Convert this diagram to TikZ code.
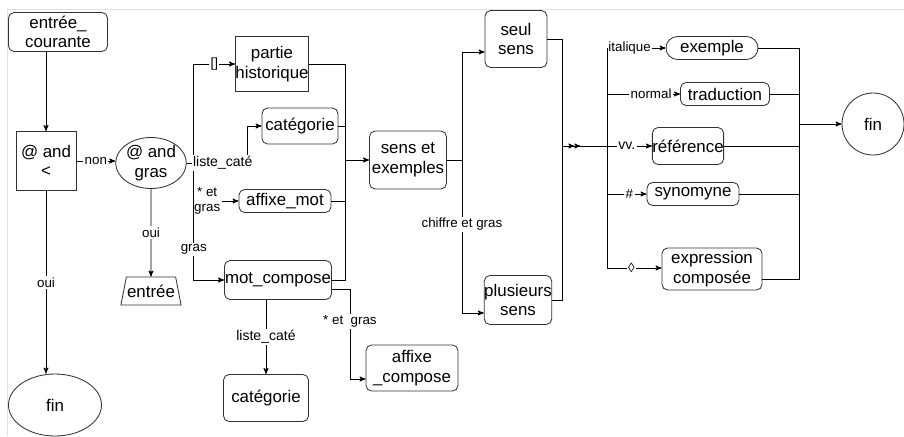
\documentclass[tikz,border=0pt]{standalone}
\usepackage{fontspec}
\setmainfont{Liberation Sans}
\usetikzlibrary{arrows,positioning,shapes,shapes.geometric}

\begin{document}
\begin{tikzpicture}[>=stealth',line width=0.6pt,on grid,
                    every node/.style={font=\fontsize{12}{14}\selectfont},
                    box/.style={rectangle,draw=black!80,align=center,inner sep=0pt},
                    rbox/.style={box,rounded corners=4pt},
                    oval/.style={ellipse,draw=black!80,align=center,inner sep=0pt},
                    lbl/.style={fill=white,inner sep=1pt,font=\fontsize{9.5}{10.5}\selectfont}]

  \useasboundingbox (-1.45,0.8) rectangle (21.15,-10.1);
  \draw[black!12] (-1.275,-10.1) -- (-1.275,0.575) -- (21.15,0.575);

  % left part
  \node[rbox, minimum width=2.475cm, minimum height=0.975cm] (courante) {entrée\_\\courante};
  \node[box, minimum width=1.5cm, minimum height=1.475cm] [below left = 3.225cm and 0.3cm of courante] (andlt) {@ and\\<};
  \node[oval, minimum width=1.75cm, minimum height=1.275cm] [below right = 0.05cm and 2.625cm of andlt] (andgras) {@ and\\gras};
  \node[trapezium, draw=black!80, inner xsep=0.5pt, inner ysep=5.5pt,
        trapezium left angle=79, trapezium right angle=79] [below = 3.2cm of andgras] (entree) {entrée};
  \node[oval, minimum width=2.325cm, minimum height=1.55cm] [below right = 6.1cm and 0.225cm of andlt] (finL) {fin};

  % entry parts
  \node[box, minimum width=1.8cm, minimum height=1.375cm] [above right = 2.475cm and 3.025cm of andgras] (hist) {partie\\historique};
  \node[rbox, minimum width=1.9cm, minimum height=0.9cm] [below right = 1.55cm and 0.7cm of hist] (cat1) {catégorie};
  \node[rbox, minimum width=2.3cm, minimum height=0.575cm] [below right = 3.425cm and 0.325cm of hist] (affmot) {affixe\_mot};
  \node[rbox, minimum width=2.675cm, minimum height=0.975cm] [below right = 5.4cm and 0.15cm of hist] (motcomp) {mot\_compose};
  \node[rbox, minimum width=2.125cm, minimum height=1.175cm] [below left = 2.95cm and 0.3cm of motcomp] (cat2) {catégorie};
  \node[rbox, minimum width=2.3cm, minimum height=1.15cm] [below right = 2.2cm and 3.35cm of motcomp] (affcomp) {affixe\\\_compose};

  % senses
  \node[rbox, minimum width=1.925cm, minimum height=1.45cm] [above right = 0.075cm and 6.425cm of andgras] (sensex) {sens et\\exemples};
  \node[rbox, minimum width=1.55cm, minimum height=1.425cm] [above right = 3.025cm and 2.7cm of sensex] (seul) {seul\\sens};
  \node[rbox, minimum width=1.65cm, minimum height=1.225cm] [below right = 3.5cm and 2.75cm of sensex] (plus) {plusieurs\\sens};

  % examples
  \node[rbox, rounded corners=0.2875cm, minimum width=2.3cm, minimum height=0.575cm] [above right = 2.8cm and 7.6cm of sensex] (exemple) {exemple};
  \node[rbox, minimum width=2.225cm, minimum height=0.575cm] [below right = 1.15cm and 0.325cm of exemple] (trad) {traduction};
  \node[rbox, minimum width=1.725cm, minimum height=0.925cm] [below left = 2.45cm and 0.6cm of exemple] (ref) {référence};
  \node[rbox, minimum width=2.3cm, minimum height=0.575cm] [below left = 3.65cm and 0.475cm of exemple] (syn) {synomyne};
  \node[rbox, minimum width=2.5cm, minimum height=1.05cm] [below = 5.525cm of exemple] (expr) {expression\\composée};
  \node[circle, draw=black!80, inner sep=0pt, minimum size=1.55cm] [above right = 0.55cm and 4.625cm of ref] (finR) {fin};

  % junctions
  \coordinate [right = 0.175cm of andgras.east] (b1);
  \coordinate [right = 1.525cm of andgras.east] (b1c);
  \coordinate [left = 0.6cm of sensex.west] (b2);
  \coordinate [right = 0.375cm of sensex.east] (b3);
  \coordinate [right = 0.375cm of seul.east] (b4);
  \coordinate [left = 1.45cm of exemple.west] (b5);
  \coordinate [left = 1.05cm of finR.west] (b6);

\draw[->] (courante.south -| andlt.north) -- (andlt.north);
\draw[->] (andlt.east) -- node[lbl] {non} (andlt.east -| andgras.west);
\draw[->] (andlt.south) -- node[lbl] {oui} (andlt.south |- finL.north);
\path (andgras) edge[->] node[lbl] {oui} (entree);

\draw (andgras.east) -- (b1);
\draw[->] (b1) |- node[lbl,pos=0.75] {[]} (hist.west);
\draw[->] (b1) |- node[lbl,pos=0.65,align=center] {* et\\gras} (affmot.west);
\draw[->] (b1) |- node[lbl,pos=0.37] {gras} (motcomp.west);
\draw[->] (andgras.east) -- node[lbl,pos=0.59,font=\fontsize{10}{11}\selectfont] {liste\_caté} (b1c) |- (cat1.west);

\draw (hist.east) -| (b2);
\draw (cat1.east) -| (b2);
\draw (affmot.east) -| (b2);
\draw (motcomp.east) -| (b2);
\draw[->] (b2) -- (sensex.west);
\draw[->] (cat2.north |- motcomp.south) -- node[lbl,font=\fontsize{10}{11}\selectfont] {liste\_caté} (cat2.north);
\draw[->] ([yshift=-0.225cm]motcomp.east) -- ++(0.45cm,0) |- node[lbl,pos=0.18] {* et~ gras} ([yshift=-0.275cm]affcomp.west);

\draw (sensex.east) -- (b3);
\draw[->] (b3) |- ([yshift=-0.325cm]seul.west);
\draw[->] (b3) |- node[lbl,pos=0.21] {chiffre et gras} ([yshift=-0.325cm]plus.west);
\draw (seul.east) -- (b4) |- (plus.east);
\draw[->>] (b4 |- ref.west) -- ++(0.45cm,0);
\draw[->] (b4 |- ref.west) -- node[lbl,pos=0.72,font=\fontsize{10}{11}\selectfont] {vv.} (ref.west);

\draw[->] (b5) -- node[lbl,pos=0.38] {italique} (exemple.west);
\draw[->] (b5) |- node[lbl,pos=0.8] {normal} (trad.west);
\draw[->] (b5) |- node[lbl,pos=0.78] {\#} (syn.west);
\draw[->] (b5) |- node[lbl,pos=0.72] {◊} ([yshift=0.025cm]expr.west);

\draw (exemple.east) -| (b6);
\draw (trad.east) -| (b6);
\draw (ref.east) -| (b6);
\draw (syn.east) -| (b6);
\draw ([yshift=-0.25cm]expr.east) -| (b6);
\draw[->,semithick] (b6) -- (finR.west);

\end{tikzpicture}
\end{document}
